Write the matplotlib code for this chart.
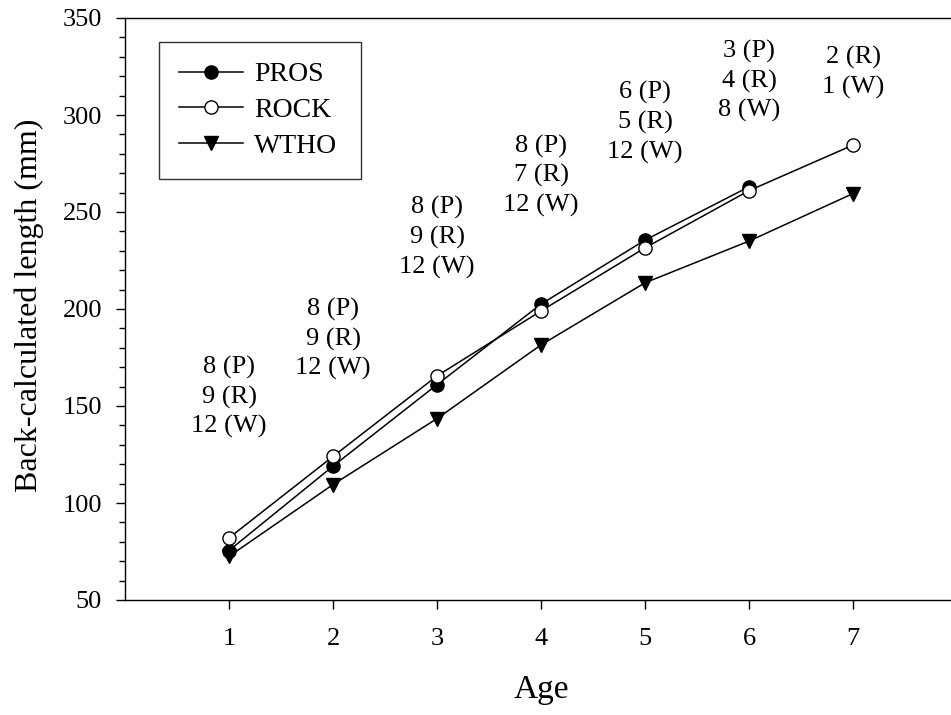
import matplotlib
matplotlib.use("Agg")
import matplotlib.pyplot as plt
from matplotlib.ticker import MultipleLocator, FixedLocator

ages = [1, 2, 3, 4, 5, 6, 7]
pros_age = [1, 2, 3, 4, 5, 6]
pros_len = [75.5, 119, 161, 202.5, 235.5, 263]
rock_age = [1, 2, 3, 4, 5, 6, 7]
rock_len = [82, 124, 165.5, 199, 231.5, 261, 284.5]
wtho_age = [1, 2, 3, 4, 5, 6, 7]
wtho_len = [72.5, 109.5, 143.5, 181.5, 213.5, 235, 259.5]

n_pros = [8, 8, 8, 8, 6, 3, None]
n_rock = [9, 9, 9, 7, 5, 4, 2]
n_wtho = [12, 12, 12, 12, 12, 8, 1]
label_y = [154.6, 184.5, 237, 268.6, 296, 317.5, 322]

plt.rcParams['font.family'] = ['Liberation Serif', 'DejaVu Serif']

fig = plt.figure(figsize=(9.51, 7.15), dpi=100)
W, H = 951, 715
ax = fig.add_axes([125 / W, (H - 600) / H, 832 / W, 582 / H])

lw = 1.1
ax.plot(pros_age, pros_len, color='black', lw=lw, marker='o', ms=9.5,
        mfc='black', mec='black', mew=1.0, label='PROS', zorder=3)
ax.plot(rock_age, rock_len, color='black', lw=lw, marker='o', ms=9.5,
        mfc='white', mec='black', mew=1.0, label='ROCK', zorder=4)
ax.plot(wtho_age, wtho_len, color='black', lw=lw, marker='v', ms=10.5,
        mfc='black', mec='black', mew=1.0, label='WTHO', zorder=3)

for a, p, r, w, yy in zip(ages, n_pros, n_rock, n_wtho, label_y):
    lines = []
    if p is not None:
        lines.append(f"{p} (P)")
    lines.append(f"{r} (R)")
    lines.append(f"{w} (W)")
    ax.text(a, yy, "\n".join(lines), ha='center', va='center',
            fontsize=19, linespacing=1.38)

ax.set_xlim(0, 8)
ax.set_ylim(50, 350)
ax.xaxis.set_major_locator(FixedLocator(ages))
ax.yaxis.set_major_locator(MultipleLocator(50))
ax.yaxis.set_minor_locator(MultipleLocator(10))
ax.tick_params(axis='both', which='major', direction='out', length=6.5,
               width=1.0, labelsize=19)
ax.tick_params(axis='y', which='minor', direction='out', length=4.3, width=1.0)
ax.tick_params(axis='y', which='major', pad=10)
ax.tick_params(axis='x', which='major', pad=13.5)
ax.spines['right'].set_visible(False)
for s in ['left', 'bottom', 'top']:
    ax.spines[s].set_linewidth(1.0)

ax.set_xlabel('Age', fontsize=24)
ax.set_ylabel('Back-calculated length (mm)', fontsize=23)
ax.xaxis.set_label_coords(0.5, -0.128)
ax.yaxis.set_label_coords(-0.097, 0.507)

lx0 = 34 / 832
ly1 = (600 - 42) / 582
lw_ax = 202 / 832
lh_ax = 134 / 582
leg = ax.legend(loc='upper left', bbox_to_anchor=(lx0, ly1 - lh_ax, lw_ax, lh_ax),
                mode='expand', borderaxespad=0, fontsize=20, frameon=True,
                fancybox=False, handlelength=2.3, labelspacing=0.37,
                borderpad=0.72, handletextpad=0.4)
leg.get_frame().set_edgecolor('black')
leg.get_frame().set_linewidth(1.0)

fig.savefig('out.png', dpi=100)
